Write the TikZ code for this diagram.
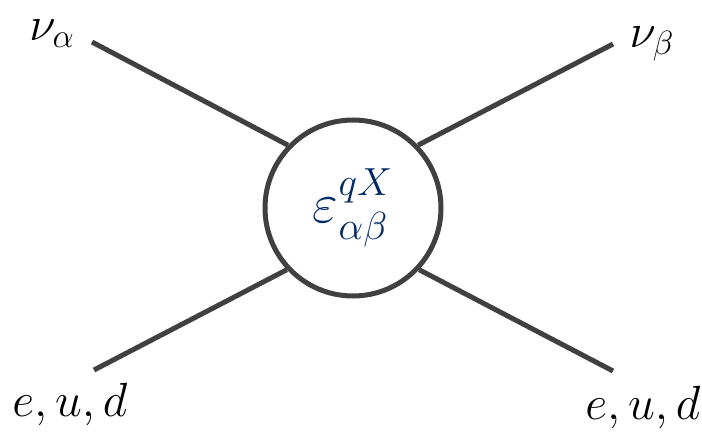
\RequirePackage{fix-cm}
\documentclass[tikz,border=0pt]{standalone}
\usepackage{amsmath, amssymb}
\usepackage{xcolor}
\definecolor{leg}{RGB}{64,64,64}
\definecolor{coupling}{RGB}{0,42,102}

\begin{document}
\begin{tikzpicture}[x=0.5pt, y=-0.5pt,
    leg/.style={draw=leg, line width=2.5pt},
    lbl/.style={inner sep=0pt, font=\fontsize{24}{28}\selectfont}]
    \useasboundingbox (0,0) rectangle (702,433);
    \node[circle, leg, fill=white, minimum size=88pt, inner sep=0pt,
          text=coupling, font=\fontsize{28}{32}\selectfont] (blob) at (353,208)
          {$\varepsilon^{qX}_{\alpha\beta}$};
    \coordinate (tl) at (92,42);
    \coordinate (tr) at (613,44);
    \coordinate (bl) at (94,370);
    \coordinate (br) at (613,371);
    \draw[leg] (tl) -- (blob.136);
    \draw[leg] (tr) -- (blob.44);
    \draw[leg] (bl) -- (blob.223);
    \draw[leg] (br) -- (blob.317);
    \node[lbl] (nua) at (52,34) {$\nu_\alpha$};
    \node[lbl] (nub) at (652,44) {$\nu_\beta$};
    \node[lbl] (fl) at (70,404) {$e,u,d$};
    \node[lbl] (fr) at (643,407) {$e,u,d$};
\end{tikzpicture}
\end{document}
